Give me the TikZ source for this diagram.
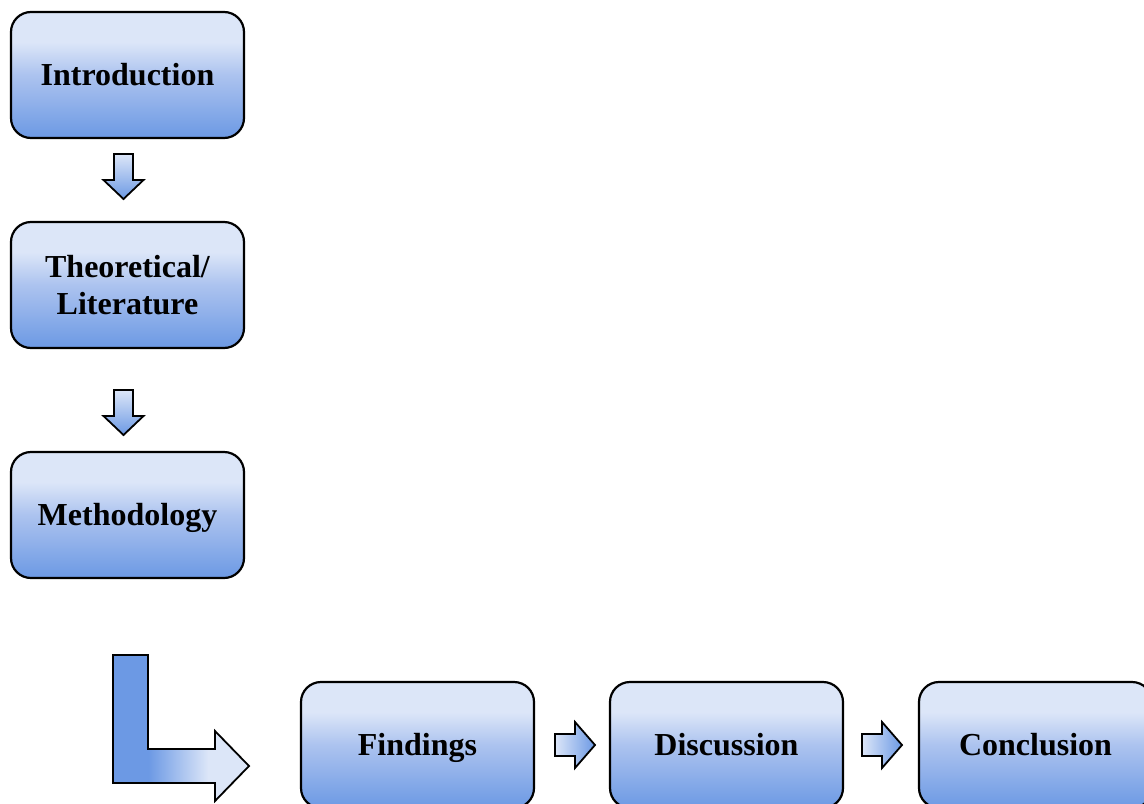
\documentclass[tikz,border=0pt]{standalone}
\usepackage{fontspec}
\setmainfont{Liberation Serif}
\usetikzlibrary{positioning,calc}

\definecolor{blight}{RGB}{220,230,248}
\definecolor{bmid}{RGB}{172,195,239}
\definecolor{bdark}{RGB}{108,153,228}

\pgfdeclareverticalshading{stageshade}{100bp}{color(0bp)=(bdark); color(25bp)=(bdark); color(50bp)=(bmid); color(63bp)=(blight); color(100bp)=(blight)}
\pgfdeclarehorizontalshading{bendshade}{100bp}{color(0bp)=(bdark); color(38bp)=(bdark); color(60bp)=(blight); color(100bp)=(blight)}

\begin{document}
\begin{tikzpicture}
            [
                x=0.5pt, y=-0.5pt,
                stage/.style={draw, line width=1.1pt, rounded corners=10pt, shading=stageshade,
                    minimum width=116.5pt, minimum height=63pt, outer sep=0pt, align=center,
                    font=\bfseries\fontsize{16}{18.5}\selectfont},
                oneline/.style={text height=10.5pt, text depth=0pt},
                blockarrow/.style={draw, line width=0.9pt, line join=miter},
                downarr/.pic={
                    \shade[blockarrow, top color=blight, bottom color=bdark]
                        (-9.5,0) -- (9.5,0) -- (9.5,26) -- (20,26) -- (0,45)
                        -- (-20,26) -- (-9.5,26) -- cycle;
                },
                rightarr/.pic={
                    \shade[blockarrow, left color=blight, right color=bdark]
                        (0,-11) -- (20,-11) -- (20,-23) -- (40,0) -- (20,23)
                        -- (20,11) -- (0,11) -- cycle;
                }
            ]
            \useasboundingbox (0,0) rectangle (1144,803);

            \node[stage, oneline] (intro) at (127.5,75) {Introduction};
            \node[stage, below=42pt of intro] (theory) {Theoretical/\\Literature};
            \node[stage, oneline, below=52pt of theory] (method) {Methodology};

            \node[stage, oneline, below right=52pt and 28.5pt of method] (findings) {Findings};
            \node[stage, oneline, right=38pt of findings] (discussion) {Discussion};
            \node[stage, oneline, right=38pt of discussion] (conclusion) {Conclusion};

            % arrows between the stages
            \pic at ($(intro.south)+(-4,16)$) {downarr};
            \pic at ($(theory.south)+(-4,42)$) {downarr};
            \pic at ($(findings.east)+(21,0)$) {rightarr};
            \pic at ($(discussion.east)+(19,0)$) {rightarr};

            % bent arrow down to the bottom row
            \coordinate (bend) at ($(method.south)+(-14.5,77)$);
            \shade[blockarrow, shading=bendshade] (bend)
                -- ++(35,0) -- ++(0,94) -- ++(67,0) -- ++(0,-18)
                -- ++(34,35) -- ++(-34,35) -- ++(0,-18) -- ++(-102,0) -- cycle;
        \end{tikzpicture}
\end{document}
